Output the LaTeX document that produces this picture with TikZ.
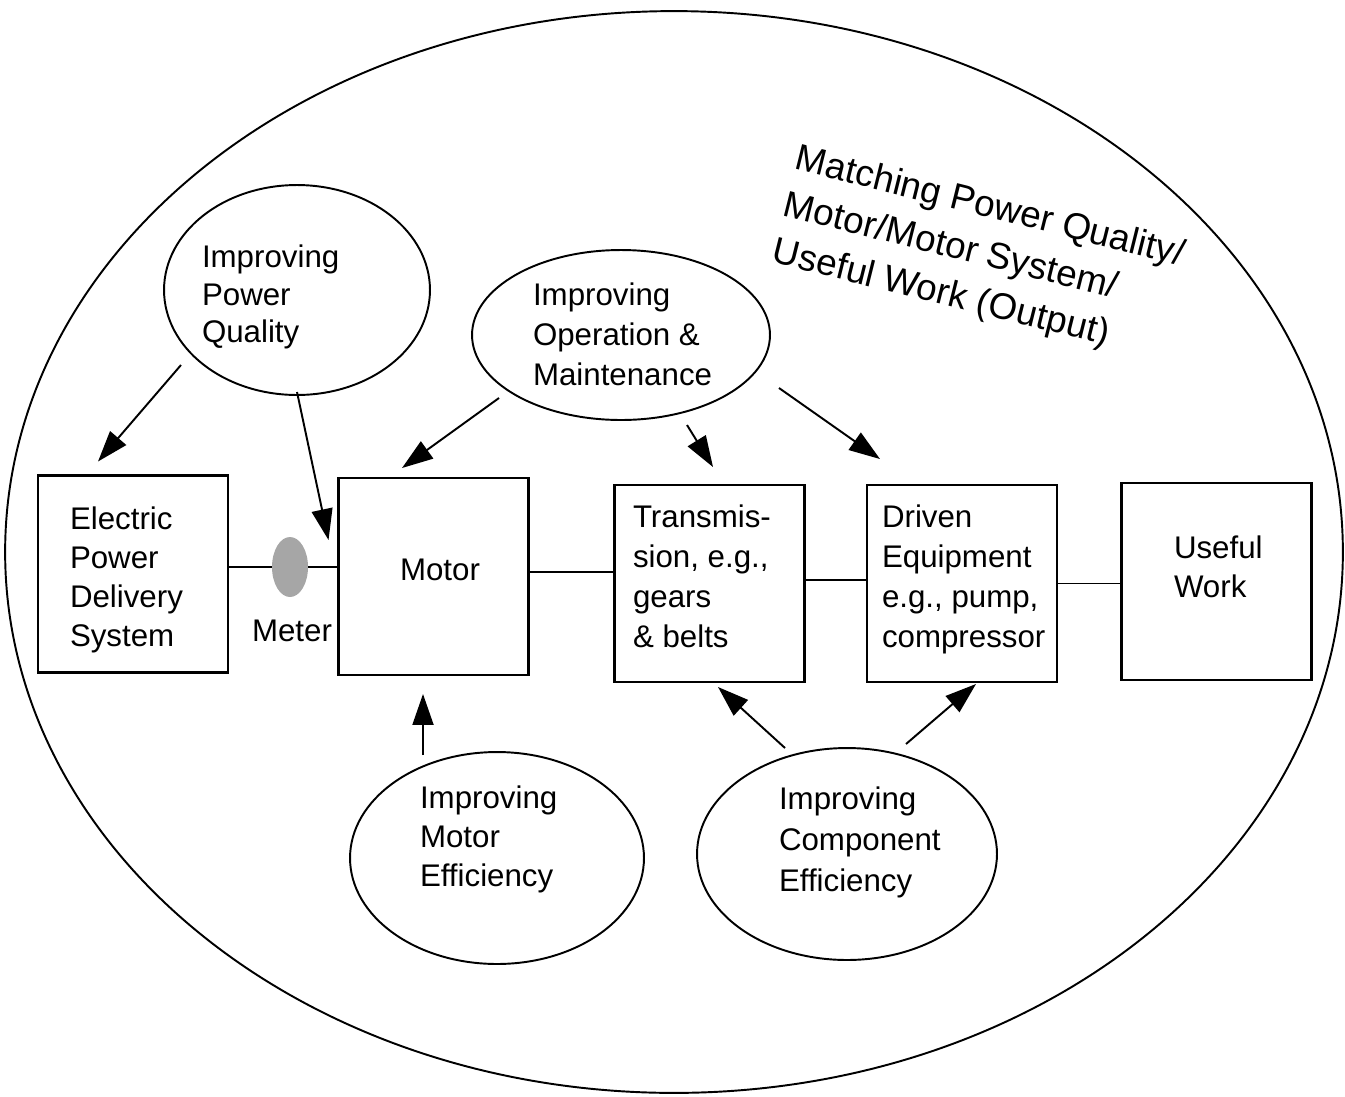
\documentclass[tikz,border=0pt]{standalone}
\usepackage{fontspec}
\setmainfont{Liberation Sans}
\usetikzlibrary{arrows.meta,shapes.geometric}
\begin{document}
\begin{tikzpicture}[x=0.02cm,y=-0.02cm,
  every node/.style={inner sep=0pt,outer sep=0pt},
  box/.style={draw,line width=1.2pt,minimum width=3.8cm,minimum height=3.94cm},
  oval/.style={draw,ellipse,line width=1.1pt},
  lbl/.style={anchor=north west,align=left,font=\fontsize{17.8}{22.7}\selectfont},
  arr/.style={line width=1.1pt,-{Triangle[length=0.62cm,width=0.42cm]}},
  link/.style={line width=1pt}]
\useasboundingbox (0,0) rectangle (1345,1096);
\node[oval,minimum width=26.76cm,minimum height=21.64cm] (outer) at (674,552) {};
% boxes
\node[box] (epds) at (133,574) {};
\node[box] (motor) at (433.5,576.5) {};
\node[box] (trans) at (709.5,583.5) {};
\node[box] (driven) at (962,583.5) {};
\node[box] (useful) at (1216.5,581.5) {};
\node[ellipse,fill=black!35,minimum width=0.72cm,minimum height=1.2cm] (meter) at (290,567) {};
% ovals
\node[oval,minimum width=5.32cm,minimum height=4.2cm] (pq) at (297,290) {};
\node[oval,minimum width=5.96cm,minimum height=3.4cm] (om) at (621,335) {};
\node[oval,minimum width=5.88cm,minimum height=4.24cm] (me) at (497,858) {};
\node[oval,minimum width=6cm,minimum height=4.24cm] (ce) at (847,854) {};
% labels
\node[lbl,font=\fontsize{17.8}{22.1}\selectfont] (epdsT) at (70,507) {Electric\\Power\\Delivery\\System};
\node[lbl] (motorT) at (400,559) {Motor};
\node[lbl] (transT) at (633,505) {Transmis-\\sion, e.g.,\\gears\\\& belts};
\node[lbl] (drivenT) at (882,505) {Driven\\Equipment\\e.g., pump,\\compressor};
\node[lbl,font=\fontsize{17.8}{22.1}\selectfont] (usefulT) at (1174,536) {Useful\\Work};
\node[lbl] (meterT) at (252,620) {Meter};
\node[lbl,font=\fontsize{17.8}{21.3}\selectfont] (pqT) at (202,245) {Improving\\Power\\Quality};
\node[lbl] (omT) at (533,283) {Improving\\Operation \&\\Maintenance};
\node[lbl,font=\fontsize{17.8}{22.1}\selectfont] (meT) at (420,786) {Improving\\Motor\\Efficiency};
\node[lbl,font=\fontsize{17.8}{23.2}\selectfont] (ceT) at (779,787) {Improving\\Component\\Efficiency};
\node[anchor=north west,align=left,rotate=-14,font=\fontsize{21}{27.2}\selectfont] (title) at (800,143) {Matching Power Quality/\\Motor/Motor System/\\Useful Work (Output)};
% links
\draw[link] (meter.west -| epds.east) -- (meter.west);
\draw[link] (meter.east) -- (meter.east -| motor.west);
\draw[link] ([yshift=0.09cm]motor.east) -- ([yshift=0.09cm]motor.east -| trans.west);
\draw[link] ([yshift=0.07cm]trans.east) -- ([yshift=0.07cm]trans.east -| driven.west);
\draw[link] (driven.east) -- (driven.east -| useful.west);
% arrows
\draw[arr] ([shift={(-116,75)}]pq.center) -- ([shift={(-35,-14)}]epds.north);
\draw[arr] ([shift={(0,102)}]pq.center) -- ([shift={(-10,62)}]motor.north west);
\draw[arr] ([shift={(-122,63)}]om.center) -- ([shift={(-31.5,-10)}]motor.north);
\draw[arr] ([shift={(66,90)}]om.center) -- ([shift={(3.5,-18)}]trans.north);
\draw[arr] ([shift={(158,53)}]om.center) -- ([shift={(-82,-26)}]driven.north);
\draw[arr] ([shift={(-74,-103)}]me.center) -- ([shift={(-10.5,19)}]motor.south);
\draw[arr] ([shift={(-62,-106)}]ce.center) -- ([shift={(8.5,5)}]trans.south);
\draw[arr] ([shift={(59,-110)}]ce.center) -- ([shift={(14,2)}]driven.south);
\end{tikzpicture}
\end{document}
